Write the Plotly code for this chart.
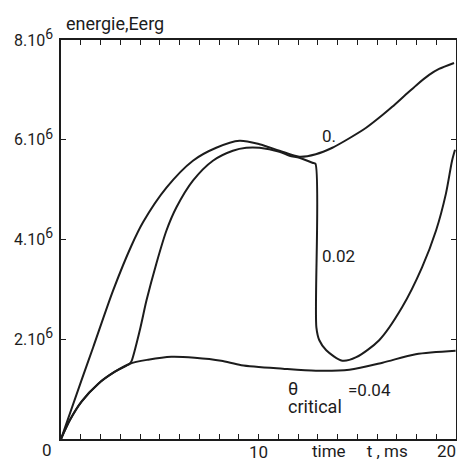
import plotly.graph_objects as go

# --- data (energy in units of 1e6 erg, time in ms) ---
t_theta0 = [0.0, 1.04, 1.63, 2.64, 3.57, 4.16, 5.34, 6.68, 7.86, 9.04, 10.05, 11.06, 12.07, 12.9, 13.74, 14.6, 15.45, 16.26, 16.77, 17.47, 17.98, 18.64, 19.14, 19.9]
e_theta0 = [0.0, 1.18, 1.84, 2.98, 3.88, 4.35, 5.04, 5.58, 5.84, 5.98, 5.91, 5.78, 5.66, 5.71, 5.84, 6.03, 6.24, 6.49, 6.66, 6.91, 7.09, 7.30, 7.42, 7.54]

t_theta002 = [0.0, 0.45, 1.04, 1.89, 2.73, 3.48, 3.57, 3.99, 4.33, 4.83, 5.34, 5.84, 6.68, 7.69, 8.7, 9.38, 10.05, 11.06, 11.57, 12.07, 12.73, 12.88, 12.93, 13.08, 13.43, 14.24, 14.95, 16.11, 17.27, 18.28, 18.99, 19.49, 19.8, 19.95]
e_theta002 = [0.0, 0.38, 0.75, 1.11, 1.35, 1.51, 1.56, 2.18, 2.78, 3.52, 4.18, 4.64, 5.18, 5.58, 5.78, 5.84, 5.84, 5.76, 5.68, 5.64, 5.54, 5.52, 2.24, 1.98, 1.78, 1.57, 1.64, 1.98, 2.64, 3.44, 4.18, 4.92, 5.58, 5.8]

t_theta004 = [0.0, 0.45, 1.04, 1.89, 2.73, 3.48, 4.41, 5.59, 6.77, 8.11, 9.13, 11.23, 12.91, 14.6, 16.28, 17.96, 19.98]
e_theta004 = [0.0, 0.38, 0.75, 1.11, 1.35, 1.51, 1.59, 1.65, 1.63, 1.57, 1.48, 1.41, 1.37, 1.39, 1.53, 1.70, 1.77]

SUP = "<sup><span style='font-size:14px'>6</span></sup>"
y_tick_vals = [2, 4, 6, 8]
y_tick_text = ["2.10" + SUP, "4.10" + SUP, "6.10" + SUP, "8.10" + SUP]
x_tick_vals = list(range(0, 21))
x_tick_text = ["10" if v == 10 else "" for v in x_tick_vals]
x_end_label = "20"

curve_labels = ["0.", "0.02", "θ", "critical", "=0.04"]

FONT = "Roboto, DejaVu Sans, sans-serif"
INK = "#1c1c1c"

fig = go.Figure()
for tx, ey in [(t_theta0, e_theta0), (t_theta002, e_theta002), (t_theta004, e_theta004)]:
    fig.add_trace(go.Scatter(x=tx, y=ey, mode="lines",
                             line=dict(color=INK, width=2, shape="spline", smoothing=0.8),
                             showlegend=False, hoverinfo="skip"))

fig.update_layout(
    width=457, height=461,
    margin=dict(l=61, r=1, t=40, b=22),
    paper_bgcolor="white", plot_bgcolor="white",
    font=dict(family=FONT, size=17, color=INK),
    showlegend=False,
)
fig.update_xaxes(
    range=[0, 20], tickmode="array", tickvals=x_tick_vals, ticktext=x_tick_text,
    ticks="inside", ticklen=5, tickwidth=1.2, tickcolor=INK,
    showline=True, linecolor=INK, linewidth=1.6, mirror="ticks",
    showgrid=False, zeroline=False, tickfont=dict(size=17),
    automargin=False, ticklabelstandoff=-3,
)
fig.update_yaxes(
    range=[0, 8], tickmode="array", tickvals=y_tick_vals, ticktext=y_tick_text,
    ticks="inside", ticklen=5, tickwidth=1.2, tickcolor=INK,
    showline=True, linecolor=INK, linewidth=1.6, mirror="ticks",
    showgrid=False, zeroline=False, tickfont=dict(size=16),
    automargin=False, ticklabelstandoff=3,
)

NB = "\u00a0"
ann = [
    dict(x=0, y=0, xref="x", yref="y", text="0", showarrow=False, xanchor="right",
         yanchor="top", xshift=-7, yshift=1),
    dict(x=1, y=0, xref="paper", yref="paper", text=x_end_label, showarrow=False,
         xanchor="right", yanchor="top", xshift=2, yshift=0),
    dict(x=12.6, y=0, xref="x", yref="paper",
         text="time" + NB * 5 + "t" + NB + "," + NB + "ms",
         showarrow=False, xanchor="left", yanchor="top", yshift=0),
    dict(x=0.15, y=1, xref="x", yref="paper", text="energie,Eerg", showarrow=False,
         xanchor="left", yanchor="bottom", yshift=4, font=dict(size=18)),
    dict(x=13.1, y=6.07, xref="x", yref="y", text=curve_labels[0], showarrow=False,
         xanchor="left", yanchor="middle"),
    dict(x=13.1, y=3.67, xref="x", yref="y", text=curve_labels[1], showarrow=False,
         xanchor="left", yanchor="middle"),
    dict(x=11.45, y=1.02, xref="x", yref="y", text=curve_labels[2], showarrow=False,
         xanchor="left", yanchor="middle", font=dict(size=18), borderpad=0),
    dict(x=11.45, y=0.66, xref="x", yref="y", text=curve_labels[3], showarrow=False,
         xanchor="left", yanchor="middle", font=dict(size=18), borderpad=0),
    dict(x=14.45, y=0.99, xref="x", yref="y", text=curve_labels[4], showarrow=False,
         xanchor="left", yanchor="middle", font=dict(size=17)),
]
fig.update_layout(annotations=ann)

fig.write_html(
    "out.html",
    config={"displayModeBar": False},
    post_script="document.body.style.margin='0px';document.body.style.overflow='hidden';",
)
